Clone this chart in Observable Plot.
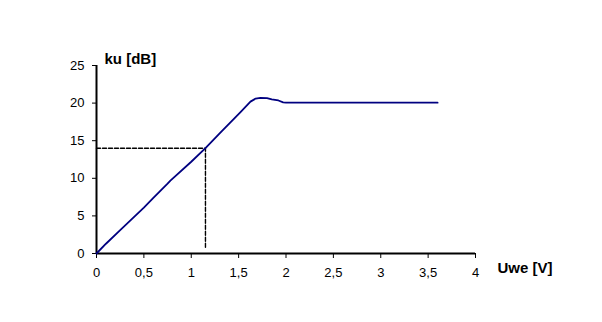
<!DOCTYPE html>
<html><head><meta charset="utf-8">
<script src="https://cdn.jsdelivr.net/npm/d3@7"></script>
<script src="https://cdn.jsdelivr.net/npm/@observablehq/plot@0.6"></script>
<style>body{margin:0;background:#fff}svg{font-family:"Liberation Sans",Arial,sans-serif}</style>
</head><body><div id="chart"></div>
<script>
const uwe = [0, 0.1, 0.25, 0.5, 0.6, 0.75, 0.78, 1.0, 1.15, 1.31, 1.52, 1.58, 1.625, 1.68, 1.73, 1.8, 1.85, 1.92, 1.97, 2.0, 2.5, 3.0, 3.6];
const ku  = [0, 1.3, 3.1, 6.1, 7.4, 9.3, 9.7, 12.2, 14.0, 16.1, 18.8, 19.6, 20.2, 20.6, 20.7, 20.65, 20.5, 20.35, 20.1, 20.05, 20.05, 20.05, 20.05];
const xTicks = [0, 0.5, 1, 1.5, 2, 2.5, 3, 3.5, 4];
const yTicks = [0, 5, 10, 15, 20, 25];
const markX = 1.15, markY = 14, markYEnd = 0.6;
const xLabel = "Uwe [V]", yLabel = "ku [dB]";

const data = uwe.map((u, i) => ({u, k: ku[i]}));
const fmt = d => String(d).replace(".", ",");

const chart = Plot.plot({
  width: 602, height: 322,
  marginLeft: 96, marginRight: 127, marginTop: 65, marginBottom: 69,
  style: {fontFamily: "'Liberation Sans', Arial, sans-serif", fontSize: "13px", color: "#000", background: "#fff"},
  x: {domain: [0, 4]},
  y: {domain: [0, 25]},
  marks: [
    Plot.axisX({ticks: xTicks, tickFormat: fmt, tickSize: 5, tickPadding: 9, label: null, fontSize: 13}),
    Plot.axisY({ticks: yTicks, tickSize: 4, tickPadding: 8, label: null, fontSize: 13}),
    Plot.ruleY([0], {stroke: "#000", strokeWidth: 2}),
    Plot.ruleX([0], {stroke: "#000", strokeWidth: 2}),
    Plot.line([{x: 0, y: markY}, {x: markX, y: markY}, {x: markX, y: markYEnd}], {x: "x", y: "y", stroke: "#000", strokeWidth: 1.4, strokeDasharray: "4,2"}),
    Plot.line(data, {x: "u", y: "k", stroke: "#000080", strokeWidth: 1.8}),
    Plot.text([yLabel], {frameAnchor: "top-left", dx: 8, dy: -12, fontWeight: "bold", fontSize: 15, textAnchor: "start"}),
    Plot.text([xLabel], {frameAnchor: "bottom-right", dx: 22, dy: 19, fontWeight: "bold", fontSize: 15, textAnchor: "start"})
  ]
});
document.getElementById("chart").append(chart);
</script></body></html>
